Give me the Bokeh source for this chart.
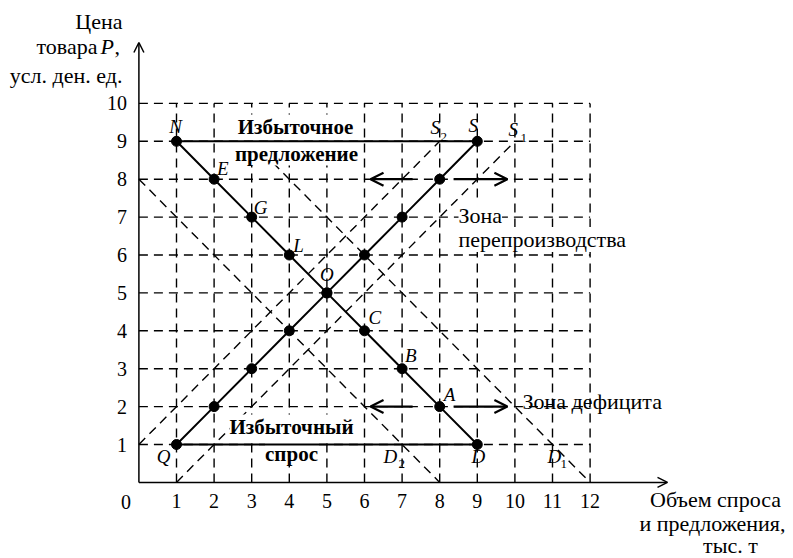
from bokeh.plotting import figure
from bokeh.models import Range1d, LinearAxis, FixedTicker, Arrow, OpenHead, ColumnDataSource
from bokeh.core.properties import value
from bokeh.embed import file_html
from bokeh.resources import INLINE

# ---------------- data ----------------
price_ticks = [1, 2, 3, 4, 5, 6, 7, 8, 9, 10]
volume_ticks = [1, 2, 3, 4, 5, 6, 7, 8, 9, 10, 11, 12]

demand_q = [1, 2, 3, 4, 5, 6, 7, 8, 9]
demand_p = [9, 8, 7, 6, 5, 4, 3, 2, 1]
supply_q = [1, 2, 3, 4, 5, 6, 7, 8, 9]
supply_p = [1, 2, 3, 4, 5, 6, 7, 8, 9]

d1_q = [3, 12]
d1_p = [9, 0]
d2_q = [0, 8]
d2_p = [8, 0]
s1_q = [1, 10]
s1_p = [0, 9]
s2_q = [0, 8]
s2_p = [1, 9]

excess_supply_price = 9
excess_demand_price = 1
arrow_prices = [8, 2]

demand_letters = ["N", "E", "G", "L", "O", "C", "B", "A", "D"]

FONT = value("Liberation Serif")

# pixel -> data helpers (picture pixels)
X0, XS = 138.4, 37.6
Y0, YS = 481.9, 37.9


def X(px):
    return (px - X0) / XS


def Y(py):
    return (Y0 - py) / YS


W, H = 793, 558
p = figure(width=W, height=H, output_backend="svg", toolbar_location=None,
           x_range=Range1d((0 - X0) / XS, (W - X0) / XS),
           y_range=Range1d((Y0 - H) / YS, Y0 / YS),
           x_axis_type=None, y_axis_type=None, min_border=0,
           outline_line_color=None)
p.grid.visible = False
p.background_fill_color = "white"

DASH = "9 6"
GW = 1.4

# ---------------- dashed grid ----------------
vx = [[v, v] for v in volume_ticks]
vy = [[0, price_ticks[-1]] for v in volume_ticks]
p.multi_line(vx, vy, line_color="black", line_width=GW, line_dash=DASH)
hx = [[0, volume_ticks[-1]] for v in price_ticks]
hy = [[v, v] for v in price_ticks]
p.multi_line(hx, hy, line_color="black", line_width=GW, line_dash=DASH)

# shifted curves (dashed)
p.multi_line([d1_q, d2_q, s1_q, s2_q], [d1_p, d2_p, s1_p, s2_p],
             line_color="black", line_width=GW, line_dash=DASH)

# ---------------- boxed text labels ----------------
bold_src = ColumnDataSource(dict(
    x=[X(295), X(296), X(291), X(291)],
    y=[Y(126), Y(153), Y(426), Y(453)],
    t=["Избыточное", "предложение", "Избыточный", "спрос"]))
p.text(x="x", y="y", text="t", source=bold_src, text_font=FONT, text_font_size="21px",
       text_font_style="bold", text_align="center", text_baseline="middle",
       background_fill_color="white")

p.text(x=[X(458)], y=[Y(239)], text=["перепроизводства"], text_font=FONT,
       text_font_size="22px", text_align="left", text_baseline="middle",
       background_fill_color="white")
p.text(x=[X(458)], y=[Y(215)], text=["Зона"], text_font=FONT,
       text_font_size="22px", text_align="left", text_baseline="middle",
       background_fill_color="white")
p.text(x=[X(522)], y=[Y(401)], text=["Зона дефицита"], text_font=FONT,
       text_font_size="22px", text_align="left", text_baseline="middle")

# ---------------- solid curves ----------------
p.line(demand_q, demand_p, line_color="black", line_width=2)
p.line(supply_q, supply_p, line_color="black", line_width=2)
p.segment(x0=[demand_q[0], supply_q[0]], y0=[excess_supply_price, excess_demand_price],
          x1=[demand_q[-1], supply_q[-1]], y1=[excess_supply_price, excess_demand_price],
          line_color="black", line_width=2)

p.scatter(demand_q, demand_p, size=10, color="black")
p.scatter(supply_q, supply_p, size=10, color="black")

# arrows
for pr in arrow_prices:
    p.add_layout(Arrow(end=OpenHead(size=13, line_width=2.2), x_start=7.28, y_start=pr,
                       x_end=6.16, y_end=pr, line_width=2.2))
    p.add_layout(Arrow(end=OpenHead(size=13, line_width=2.2), x_start=8.37, y_start=pr,
                       x_end=9.80, y_end=pr, line_width=2.2))

# ---------------- point letters ----------------
dx_off = [-1, 3, 2, 4, 0, 4, 3, 4, 1]
dy_off = [-15, -11, -10, -10, -18, -13, -13, -12, 12]
d_align = ["center", "left", "left", "left", "center", "left", "left", "left", "center"]
p.text(x=demand_q, y=demand_p, text=demand_letters, x_offset=dx_off, y_offset=dy_off,
       text_align=d_align, text_font=FONT, text_font_size="19px", text_font_style="italic",
       text_baseline="middle")
p.text(x=[supply_q[0], supply_q[-1]], y=[supply_p[0], supply_p[-1]], text=["Q", "S"],
       x_offset=[-6, -4], y_offset=[12, -16], text_align=["right", "center"],
       text_font=FONT, text_font_size="19px", text_font_style="italic",
       text_baseline="middle")

# shifted curve labels
p.text(x=[X(383), X(547), X(430), X(508)], y=[Y(456), Y(456), Y(127), Y(129)],
       text=["D", "D", "S", "S"], text_font=FONT, text_font_size="19px",
       text_font_style="italic", text_align="left", text_baseline="middle")
p.text(x=[X(398), X(560), X(440), X(520)], y=[Y(463), Y(463), Y(136), Y(137)],
       text=["2", "1", "2", "1"], text_font=FONT, text_font_size="13px",
       text_align="left", text_baseline="middle")

# ---------------- axes ----------------
xaxis = LinearAxis(fixed_location=0, ticker=FixedTicker(ticks=volume_ticks),
                   axis_line_color=None, major_tick_line_color=None,
                   minor_tick_line_color=None, major_tick_out=0, major_tick_in=0,
                   major_label_standoff=12, major_label_text_font="Liberation Serif",
                   major_label_text_font_size="20px", major_label_text_color="black")
p.add_layout(xaxis, "below")
yaxis = LinearAxis(fixed_location=0, ticker=FixedTicker(ticks=price_ticks),
                   axis_line_color=None, major_tick_line_color=None,
                   minor_tick_line_color=None, major_tick_out=0, major_tick_in=0,
                   major_label_standoff=12, major_label_text_font="Liberation Serif",
                   major_label_text_font_size="20px", major_label_text_color="black")
p.add_layout(yaxis, "left")

p.add_layout(Arrow(end=OpenHead(size=10, line_width=1.5), x_start=0, y_start=0,
                   x_end=X(667), y_end=0, line_width=1.5))
p.add_layout(Arrow(end=OpenHead(size=10, line_width=1.5), x_start=0, y_start=0,
                   x_end=0, y_end=Y(42), line_width=1.5))

# origin label
p.text(x=[0], y=[0], text=["0"], x_offset=[-13], y_offset=[20], text_font=FONT,
       text_font_size="20px", text_align="center", text_baseline="middle")

# axis titles
p.text(x=[X(122), X(97), X(122)], y=[Y(21), Y(46), Y(75)],
       text=["Цена", "товара", "усл. ден. ед."], text_font=FONT, text_font_size="22px",
       text_align="right", text_baseline="middle")
p.text(x=[X(100)], y=[Y(46)], text=["P"], text_font=FONT, text_font_size="22px",
       text_font_style="italic", text_align="left", text_baseline="middle")
p.text(x=[X(114)], y=[Y(46)], text=[","], text_font=FONT, text_font_size="22px",
       text_align="left", text_baseline="middle")
p.text(x=[X(715), X(712), X(730)], y=[Y(499), Y(523), Y(545)],
       text=["Объем спроса", "и предложения,", "тыс. т"], text_font=FONT,
       text_font_size="22px", text_align="center", text_baseline="middle")

open("out.html", "w").write(file_html(p, INLINE))
